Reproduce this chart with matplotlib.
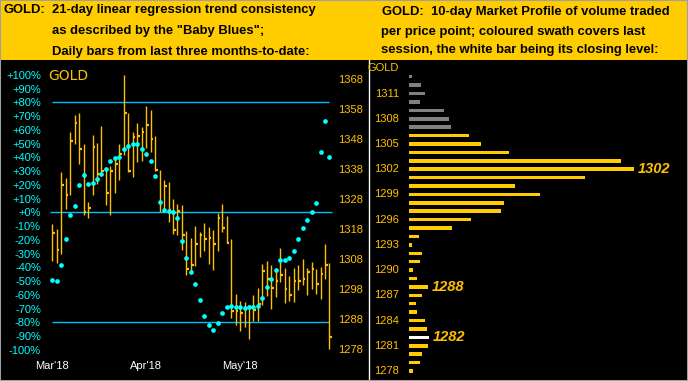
import matplotlib
matplotlib.use("Agg")
import matplotlib.pyplot as plt
from matplotlib.patches import Rectangle

plt.rcParams["font.family"] = ["Liberation Sans", "DejaVu Sans"]

W, H = 688, 381

# daily bars (high / low / close), Mar'18 to date
highs = [1319.6, 1317.9, 1337.0, 1335.0, 1350.3, 1355.9, 1356.7, 1346.3, 1327.0, 1349.2, 1346.7, 1352.2, 1338.3, 1339.0, 1341.4, 1346.3,
         1369.2, 1356.7, 1350.3, 1353.3, 1351.9, 1359.0, 1357.6, 1349.0, 1337.8, 1334.3, 1333.7, 1328.1, 1326.2, 1325.9, 1317.2, 1315.0,
         1319.0, 1317.0, 1320.0, 1318.7, 1317.7, 1323.3, 1326.3, 1322.3, 1314.7, 1296.3, 1294.0, 1293.7, 1292.6, 1295.9, 1298.3, 1306.3,
         1307.2, 1305.9, 1304.0, 1311.7, 1305.0, 1302.4, 1305.0, 1306.1, 1308.0, 1305.0, 1307.0, 1304.8, 1305.3, 1313.0, 1306.7]
lows = [1307.3, 1306.8, 1309.8, 1324.8, 1329.2, 1346.4, 1339.8, 1322.6, 1321.8, 1329.2, 1332.9, 1335.9, 1326.1, 1322.8, 1330.0, 1334.4,
        1342.6, 1337.0, 1335.3, 1340.3, 1340.6, 1345.0, 1343.5, 1337.2, 1323.7, 1323.7, 1320.3, 1316.4, 1315.9, 1310.9, 1302.6, 1303.7,
        1305.7, 1308.7, 1310.6, 1306.4, 1304.3, 1310.7, 1317.0, 1313.3, 1288.3, 1285.9, 1284.1, 1285.3, 1281.4, 1287.2, 1287.2, 1292.6,
        1295.6, 1291.4, 1295.3, 1300.3, 1293.4, 1294.0, 1293.7, 1297.7, 1299.2, 1296.1, 1298.1, 1296.4, 1294.8, 1301.2, 1278.1]
closes = [1316.8, 1311.1, 1332.8, 1329.2, 1347.4, 1353.4, 1344.8, 1323.8, 1325.1, 1345.4, 1336.4, 1337.2, 1330.1, 1337.4, 1339.8, 1343.1,
          1356.8, 1337.4, 1348.7, 1349.1, 1350.4, 1352.6, 1348.1, 1337.8, 1326.7, 1332.4, 1324.4, 1317.8, 1324.0, 1316.0, 1304.8, 1306.1,
          1313.1, 1316.1, 1314.8, 1315.1, 1313.1, 1321.8, 1318.4, 1313.4, 1290.6, 1290.6, 1290.1, 1291.7, 1291.9, 1290.9, 1293.1, 1304.1,
          1301.4, 1298.4, 1300.7, 1302.8, 1298.1, 1296.1, 1300.6, 1300.8, 1301.4, 1303.7, 1304.6, 1299.8, 1303.1, 1306.1, 1282.1]

# "Baby Blues": 21-day linear regression trend consistency (%)
blues = [-49.2, -50.0, -38.1, -19.4, -2.0, 4.6, 19.9, 27.1, 20.6, 21.6, 24.2, 28.1, 31.5, 37.3, 39.5, 40.2,
         46.3, 48.2, 49.9, 49.9, 46.3, 42.6, 37.3, 26.6, 7.7, 1.9, 0.9, 0.0, -3.9, -20.9, -33.0, -43.4,
         -51.9, -63.8, -75.4, -82.0, -85.4, -80.5, -73.2, -68.9, -68.1, -68.9, -68.9, -69.6, -69.1, -68.9, -68.1, -62.3,
         -54.3, -48.3, -42.0, -34.4, -34.4, -33.0, -28.1, -19.4, -11.2, -5.4, 0.2, 6.8, 43.9, 66.4, 40.2]

month_idx = [0, 21, 42]
month_labels = ["Mar'18", "Apr'18", "May'18"]

# 10-day market profile
profile_prices = list(range(1313, 1277, -1))
profile_volume = [3, 12, 16, 11, 35, 40, 42, 60, 72, 100, 212, 225, 176, 106, 131, 95, 92, 62,
                  43, 10, 3, 13, 11, 4, 8, 19, 13, 7, 8, 16, 18, 20, 19, 13, 11, 4]
last_session = (1278, 1306)
last_close = 1282
profile_labels = [1302, 1288, 1282]

GOLD = "#FFC000"
CYAN = "#00FFFF"
LINE = "#00BFFF"
YELLOW = "#FFCC00"


def fx(x):
    return x / W


def fy(y):
    return 1 - y / H


fig = plt.figure(figsize=(W / 100, H / 100), dpi=100, facecolor="black")

# header band and border
fig.patches.append(Rectangle((0, fy(60)), 1, 60 / H, transform=fig.transFigure,
                             facecolor=YELLOW, edgecolor="none", zorder=0))
fig.patches.append(Rectangle((0, 0), 1, 1, transform=fig.transFigure,
                             facecolor="none", edgecolor="#A0A0A0", lw=1.5, zorder=10))

hdr = dict(fontsize=9.4, fontweight="bold", color="black", va="baseline")
fig.text(fx(3), fy(12.7), "GOLD:", **hdr)
fig.text(fx(52), fy(12.7), "21-day linear regression trend consistency", **hdr)
fig.text(fx(52), fy(34.0), 'as described by the "Baby Blues";', **hdr)
fig.text(fx(52), fy(55.0), "Daily bars from last three months-to-date:", **hdr)
fig.text(fx(382), fy(15.5), "GOLD:  10-day Market Profile of volume traded", **hdr)
fig.text(fx(381), fy(35.5), "per price point; coloured swath covers last", **hdr)
fig.text(fx(381), fy(53.0), "session, the white bar being its closing level:", **hdr)

# ---- left panel: bars + baby blues
step = 4.47
x0 = 52.3
ax = fig.add_axes([fx(44), fy(360), (336 - 44) / W, 296 / H])
ax.set_facecolor("black")
ax.set_xlim((44 - x0) / step, (336 - x0) / step)
ax.set_ylim((212.3 - 360) / 1.375, (212.3 - 64) / 1.375)
for s in ax.spines.values():
    s.set_visible(False)

pct_ticks = list(range(-100, 101, 10))
ax.set_yticks(pct_ticks)
ax.set_yticklabels([f"{v:+d}%" for v in pct_ticks])
ax.tick_params(axis="y", length=0, pad=2.2, labelsize=8, labelcolor=CYAN)
ax.set_xticks(month_idx)
ax.set_xticklabels(month_labels)
ax.tick_params(axis="x", length=0, pad=0.5, labelsize=8, labelcolor="white")

n = len(closes)
days = list(range(n))
ax.hlines([80, -80], 0, n - 1, color=LINE, lw=1.0, zorder=1)
ax.hlines(0, -0.5, n - 0.5, color=LINE, lw=1.0, zorder=1)
ax.text((48 - x0) / step, (212.3 - 76) / 1.375, "GOLD", color=GOLD, fontsize=10,
        family="DejaVu Sans", va="center", ha="left")

# price scale on the right
ax2 = ax.twinx()
ax2.set_ylim(1368 - (360 - 79) / 3, 1368 + (79 - 64) / 3)
for s in ax2.spines.values():
    s.set_visible(False)
price_ticks = list(range(1278, 1369, 10))
ax2.set_yticks(price_ticks)
ax2.tick_params(axis="y", length=0, pad=1.5, labelsize=8, labelcolor=GOLD)
ax2.vlines(days, lows, highs, color=GOLD, lw=1.0, zorder=2)
ax2.hlines(closes, days, [d + 0.6 for d in days], color=GOLD, lw=1.6, zorder=2)

# dots drawn above the bars, sharing the percent scale
ax3 = ax.twinx()
ax3.set_ylim(ax.get_ylim())
ax3.set_yticks([])
for s in ax3.spines.values():
    s.set_visible(False)
ax3.plot(days, blues, "o", color=CYAN, ms=3.4, mec="none", zorder=3)
ax2.yaxis.tick_right()

# ---- right panel: market profile
px_per = (371 - 76.7) / 35
axp = fig.add_axes([fx(369), fy(380), (688 - 369) / W, 320 / H])
axp.set_facecolor("black")
axp.set_xlim(0, 688 - 369)
axp.set_ylim(1313 - (380 - 76.7) / px_per, 1313 + (76.7 - 60) / px_per)
for k, s in axp.spines.items():
    s.set_visible(k == "left")
axp.spines["left"].set_color("white")
axp.spines["left"].set_linewidth(1.0)
axp.set_xticks([])
axp.set_yticks([])

colors = []
for p in profile_prices:
    if p == last_close:
        colors.append("white")
    elif last_session[0] <= p <= last_session[1]:
        colors.append(YELLOW)
    else:
        colors.append("#808080")
axp.barh(profile_prices, profile_volume, left=40, height=0.42, color=colors)

for p in range(1311, 1277, -3):
    axp.text(30, p, str(p), color=GOLD, fontsize=8, ha="right", va="center")
axp.text(30, 1313 + (76.7 - 68) / px_per, "GOLD", color=GOLD, fontsize=8, ha="right", va="center")

for p in profile_labels:
    v = profile_volume[profile_prices.index(p)]
    axp.text(40 + v + 4, p, str(p), color=GOLD, fontsize=10.5, fontweight="bold",
             style="italic", ha="left", va="center")

fig.savefig("out.png", dpi=100, facecolor="black")
